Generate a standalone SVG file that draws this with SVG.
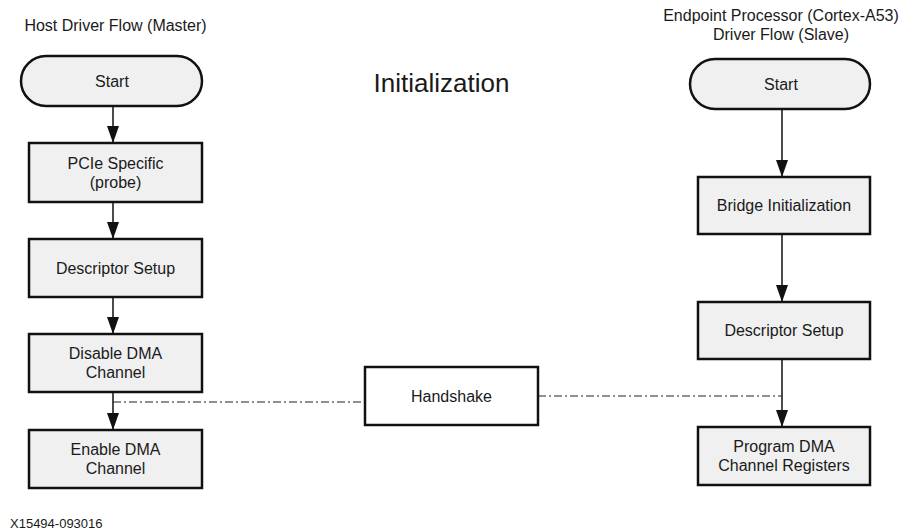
<svg xmlns="http://www.w3.org/2000/svg" width="901" height="531" viewBox="0 0 901 531">
<style>
  text { font-family: "Liberation Sans", Arial, sans-serif; fill: #1a1a1a; text-anchor: middle; }
  .lbl { font-size: 16px; }
  .box { fill: #f0f0f0; stroke: #111; stroke-width: 2.5; }
  .hs { fill: #ffffff; stroke: #111; stroke-width: 2.5; }
  .flow { stroke: #111; stroke-width: 1.5; fill: none; marker-end: url(#arr); }
  .dd { stroke: #222; stroke-width: 1; fill: none; stroke-dasharray: 8 3 2 3; }
</style>
<defs>
  <marker id="arr" markerWidth="17" markerHeight="12" refX="17" refY="6" orient="auto" markerUnits="userSpaceOnUse">
    <path d="M0,0 L17,6 L0,12 z" fill="#111"/>
  </marker>
</defs>
<rect width="901" height="531" fill="#ffffff"/>

<text class="lbl" x="115.5" y="31">Host Driver Flow (Master)</text>
<text class="lbl" x="781" y="21">Endpoint Processor (Cortex-A53)</text>
<text class="lbl" x="781" y="40">Driver Flow (Slave)</text>
<text x="441.5" y="92" style="font-size:26px">Initialization</text>
<text x="10" y="528" style="font-size:13px;text-anchor:start">X15494-093016</text>

<g id="connectors">
  <line class="flow" x1="113" y1="106" x2="113" y2="143"/>
  <line class="flow" x1="113" y1="202" x2="113" y2="239"/>
  <line class="flow" x1="113" y1="297" x2="113" y2="334"/>
  <line class="flow" x1="113" y1="392" x2="113" y2="430"/>
  <line class="flow" x1="782" y1="109" x2="782" y2="177"/>
  <line class="flow" x1="782" y1="234" x2="782" y2="302"/>
  <line class="flow" x1="782" y1="359" x2="782" y2="427"/>
  <line class="dd" x1="113" y1="402" x2="365" y2="402"/>
  <line class="dd" x1="538" y1="396" x2="782" y2="396"/>
</g>

<g id="host-start">
  <rect class="box" x="21" y="56" width="181" height="50" rx="25" ry="25"/>
  <text class="lbl" x="112" y="86.5">Start</text>
</g>
<g id="host-pcie">
  <rect class="box" x="29" y="143" width="173" height="59"/>
  <text class="lbl" x="115.5" y="168.5">PCIe Specific</text>
  <text class="lbl" x="115.5" y="187.5">(probe)</text>
</g>
<g id="host-desc">
  <rect class="box" x="29" y="239" width="173" height="58"/>
  <text class="lbl" x="115.5" y="273.5">Descriptor Setup</text>
</g>
<g id="host-disable">
  <rect class="box" x="29" y="334" width="173" height="58"/>
  <text class="lbl" x="115.5" y="359">Disable DMA</text>
  <text class="lbl" x="115.5" y="378">Channel</text>
</g>
<g id="host-enable">
  <rect class="box" x="29" y="430" width="173" height="58"/>
  <text class="lbl" x="115.5" y="455">Enable DMA</text>
  <text class="lbl" x="115.5" y="474">Channel</text>
</g>

<g id="handshake">
  <rect class="hs" x="365" y="367" width="173" height="58"/>
  <text class="lbl" x="451.5" y="401.5">Handshake</text>
</g>

<g id="ep-start">
  <rect class="box" x="690" y="59" width="180" height="50" rx="25" ry="25"/>
  <text class="lbl" x="781" y="89.5">Start</text>
</g>
<g id="ep-bridge">
  <rect class="box" x="698" y="177" width="172" height="57"/>
  <text class="lbl" x="784" y="211">Bridge Initialization</text>
</g>
<g id="ep-desc">
  <rect class="box" x="698" y="302" width="172" height="57"/>
  <text class="lbl" x="784" y="336">Descriptor Setup</text>
</g>
<g id="ep-program">
  <rect class="box" x="698" y="427" width="172" height="58"/>
  <text class="lbl" x="784" y="452">Program DMA</text>
  <text class="lbl" x="784" y="471">Channel Registers</text>
</g>
</svg>
